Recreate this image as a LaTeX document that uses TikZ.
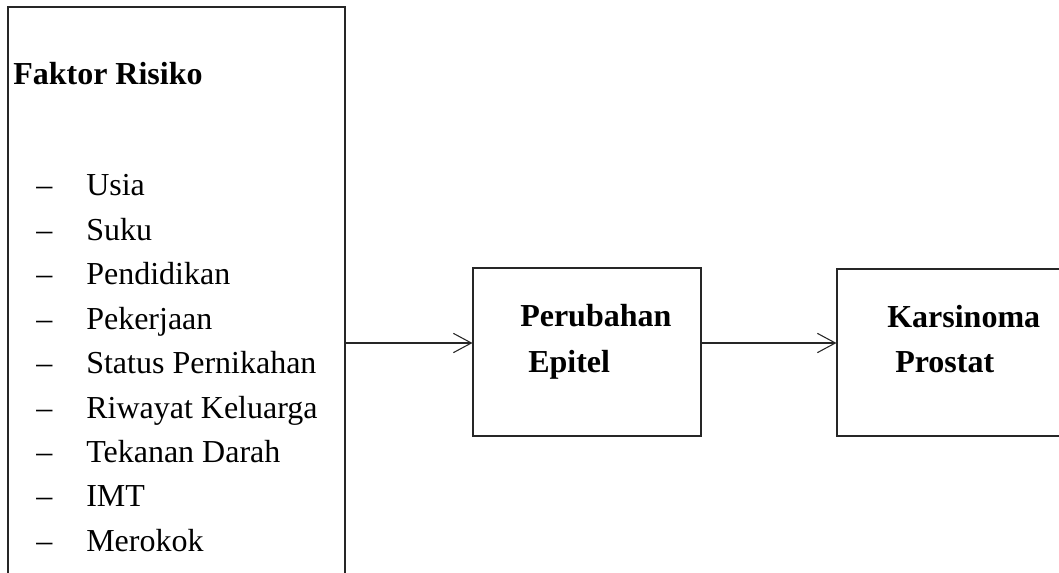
\documentclass[tikz,border=0pt]{standalone}
\usepackage{fontspec}
\setmainfont{Liberation Serif}
\usetikzlibrary{arrows.meta}
\begin{document}
\begin{tikzpicture}[x=0.75pt,y=-0.75pt,
  boxstyle/.style={draw=black!85,line width=0.8pt,rectangle,inner sep=0pt},
  txt/.style={anchor=base west,inner sep=0pt,font=\fontsize{24}{28}\selectfont},
  btxt/.style={txt,font=\fontsize{24}{28}\selectfont\bfseries},
  arr/.style={draw=black!85,line width=0.8pt,-{Straight Barb[length=13.5pt,width=14.5pt,line width=0.8pt]}}]
\useasboundingbox (0,0) rectangle (1059,573);
\clip (0,0) rectangle (1059,573);
% boxes
\node[boxstyle,minimum width=252.75pt,minimum height=459.75pt] (box1) at (176.5,313.5) {};
\node[boxstyle,minimum width=171pt,minimum height=126pt] (box2) at (587,352) {};
\node[boxstyle,minimum width=197.25pt,minimum height=125.25pt] (box3) at (968.5,352.5) {};
% texts
\node[btxt] (title) at (13,85) {Faktor Risiko};
\foreach \t [count=\i] in {Usia,Suku,Pendidikan,Pekerjaan,Status Pernikahan,Riwayat Keluarga,Tekanan Darah,IMT,Merokok}{
  \node[txt] (dash\i) at (36,{196+44.4*(\i-1)}) {--};
  \node[txt] (item\i) at (86,{196+44.4*(\i-1)}) {\t};
}
\node[btxt] (p1) at (520,326) {Perubahan};
\node[btxt] (p2) at (528,372) {Epitel};
\node[btxt] (k1) at (887,327) {Karsinoma};
\node[btxt] (k2) at (895,372) {Prostat};
% arrows
\coordinate (row) at (0,343);
\draw[arr] (box1.east |- row) -- (box2.west |- row);
\draw[arr] (box2.east |- row) -- (box3.west |- row);
\end{tikzpicture}
\end{document}
